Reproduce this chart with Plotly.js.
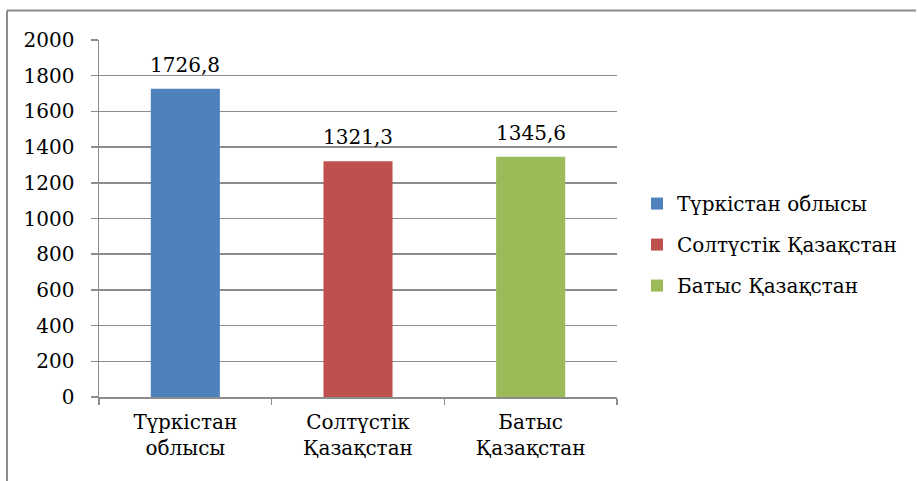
<!DOCTYPE html>
<html>
<head>
<meta charset="utf-8">
<script src="https://cdn.plot.ly/plotly-3.0.1.min.js"></script>
<style>html,body{margin:0;padding:0;background:#fff;}#chart{width:917px;height:481px;}</style>
</head>
<body>
<div id="chart"></div>
<script>
var categories = ["Түркістан<br>облысы", "Солтүстік<br>Қазақстан", "Батыс<br>Қазақстан"];
var seriesNames = ["Түркістан облысы", "Солтүстік Қазақстан", "Батыс Қазақстан"];
var values = [1726.8, 1321.3, 1345.6];
var colors = ["#4F81BD", "#C0504D", "#9BBB59"];
var yTicks = [0, 200, 400, 600, 800, 1000, 1200, 1400, 1600, 1800, 2000];

var FONT = "DejaVu Serif";
var GRAY = "#8c8c8c";

var traces = categories.map(function (c, i) {
  return {
    type: "bar",
    x: [c],
    y: [values[i]],
    name: seriesNames[i],
    legendgroup: "g" + i,
    marker: { color: colors[i] },
    width: 0.4,
    hoverinfo: "y"
  };
});

var annotations = categories.map(function (c, i) {
  return {
    x: c, y: values[i], xref: "x", yref: "y",
    text: String(values[i]).replace(".", ","),
    showarrow: false, yanchor: "bottom", yshift: 10,
    font: { family: FONT, size: 20, color: "#000" }
  };
});

var layout = {
  width: 917, height: 481,
  margin: { l: 99, r: 300, t: 40, b: 84 },
  paper_bgcolor: "#fff", plot_bgcolor: "#fff",
  font: { family: FONT, size: 20, color: "#000" },
  barmode: "overlay",
  showlegend: true,
  legend: {
    x: 1.0386, xanchor: "left", y: 0.427, yanchor: "middle",
    tracegroupgap: 12, font: { family: FONT, size: 20, color: "#000" },
    bgcolor: "rgba(0,0,0,0)"
  },
  xaxis: {
    type: "category",
    tickson: "boundaries",
    ticks: "outside", ticklen: 6, tickcolor: GRAY, tickwidth: 1.5,
    showline: true, linecolor: GRAY, linewidth: 1.5,
    showgrid: false, zeroline: false,
    ticklabelstandoff: 6,
    tickfont: { family: FONT, size: 20, color: "#000" },
    fixedrange: true
  },
  yaxis: {
    range: [0, 2000],
    tickvals: yTicks,
    ticks: "outside", ticklen: 7, tickcolor: GRAY, tickwidth: 1.5,
    showline: true, linecolor: GRAY, linewidth: 1.5,
    showgrid: true, gridcolor: GRAY, gridwidth: 1.5,
    zeroline: false,
    ticklabelstandoff: 12,
    tickfont: { family: FONT, size: 20, color: "#000" },
    fixedrange: true
  },
  annotations: annotations,
  shapes: [
    { type: "line", xref: "paper", yref: "paper", x0: -0.1776, x1: 1.577, y0: 1.0826, y1: 1.0826,
      line: { color: GRAY, width: 2 } },
    { type: "line", xref: "paper", yref: "paper", x0: -0.1776, x1: -0.1776, y0: 1.0826, y1: -0.25,
      line: { color: GRAY, width: 2 } }
  ]
};

Plotly.newPlot("chart", traces, layout, { displayModeBar: false, staticPlot: true });
</script>
</body>
</html>
